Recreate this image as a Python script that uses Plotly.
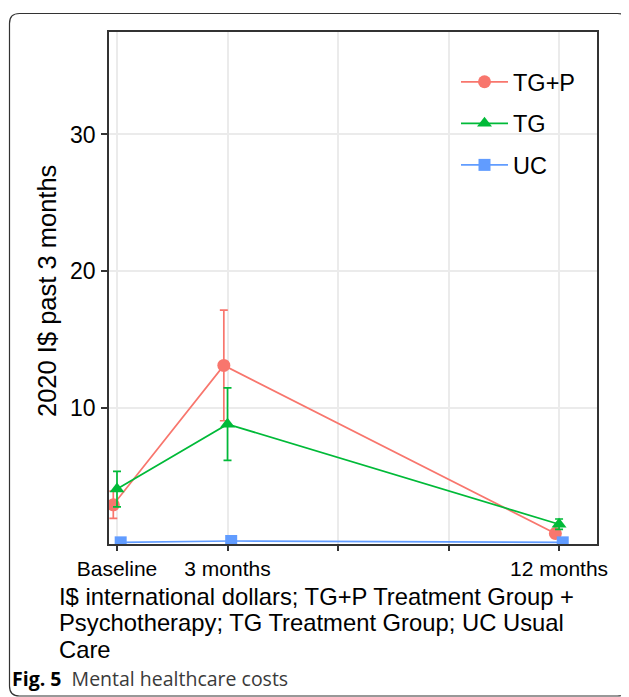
import plotly.graph_objects as go

# ---- data ----
months = [0, 3, 12]
tick_vals = [0, 3, 6, 9, 12]
tick_text = ["Baseline", "3 months", "", "", "12 months"]
groups = ["TG+P", "TG", "UC"]
tgp_mean = [2.9, 13.1, 0.8]
tgp_err = [1.0, 4.05, 0.3]
tg_mean = [4.05, 8.8, 1.48]
tg_err = [1.3, 2.65, 0.38]
uc_mean = [0.15, 0.25, 0.15]
uc_err = [0.08, 0.1, 0.08]

colors = {"TG+P": "#F8766D", "TG": "#00BA38", "UC": "#619CFF"}
symbols = {"TG+P": "circle", "TG": "triangle-up", "UC": "square"}
dodge = {"TG+P": -0.1, "TG": 0.0, "UC": 0.1}
means = {"TG+P": tgp_mean, "TG": tg_mean, "UC": uc_mean}
errs = {"TG+P": tgp_err, "TG": tg_err, "UC": uc_err}

FONT = "Liberation Sans, Arial, Helvetica, sans-serif"

# page has an 8px body margin; design in screen coordinates
OFF = 8
SW, SH = 629, 697
PL, PR, PT, PB = 109, 597, 32, 544   # plot area in screen px
W, H = SW - OFF, SH - OFF
ml, mt = PL - OFF, PT - OFF
mb = H - (PB - OFF)
mr = W - (PR - OFF)
pw, ph = PR - PL, PB - PT

def px(x):
    return (x - PL) / pw

def py(y):
    return (PB - y) / ph

fig = go.Figure()
for g in groups:
    fig.add_trace(go.Scatter(
        x=[m + dodge[g] for m in months],
        y=means[g],
        name=g,
        legendgroup=g,
        mode="lines+markers",
        line=dict(color=colors[g], width=1.7),
        marker=dict(symbol=symbols[g], size=13 if g != "UC" else 12, color=colors[g]),
        error_y=dict(type="data", array=errs[g], visible=True, color=colors[g],
                     thickness=1.7, width=4),
    ))

# white legend panel covering grid lines
fig.add_shape(type="rect", xref="paper", yref="paper",
              x0=px(442), x1=px(591), y0=py(200), y1=py(40),
              fillcolor="white", line=dict(width=0), layer="between")

fig.update_layout(
    width=W, height=H,
    margin=dict(l=ml, r=mr, t=mt, b=mb, autoexpand=False),
    paper_bgcolor="white", plot_bgcolor="white",
    font=dict(family=FONT, color="black"),
    showlegend=True,
    legend=dict(
        x=px(456), y=py(60), xanchor="left", yanchor="top",
        bgcolor="rgba(0,0,0,0)", font=dict(size=23.5, family=FONT),
        tracegroupgap=8, itemwidth=47, traceorder="grouped",
    ),
)
fig.update_xaxes(
    range=[-0.217, 13.03], tickmode="array", tickvals=tick_vals, ticktext=tick_text,
    showgrid=True, gridcolor="#EBEBEB", gridwidth=1.5,
    showline=True, mirror=True, linecolor="#333333", linewidth=1.6,
    ticks="outside", ticklen=5, tickwidth=1.5, tickcolor="#333333",
    tickfont=dict(size=21, family=FONT, color="black"), zeroline=False,
)
fig.update_yaxes(
    range=[0.03, 37.5], tickmode="array", tickvals=[10, 20, 30],
    showgrid=True, gridcolor="#EBEBEB", gridwidth=1.5,
    showline=True, mirror=True, linecolor="#333333", linewidth=1.6,
    ticks="outside", ticklen=6, tickwidth=1.5, tickcolor="#333333",
    tickfont=dict(size=23, family=FONT, color="black"), zeroline=False,
    ticklabelstandoff=1,
)

ann = [
    dict(text="2020 I$ past 3 months", x=px(47), y=py(291), textangle=-90,
         font=dict(size=25.5, family=FONT)),
    dict(text="I$ international dollars; TG+P Treatment Group +", x=px(57), y=py(596),
         xanchor="left", font=dict(size=23.8, family=FONT)),
    dict(text="Psychotherapy; TG Treatment Group; UC Usual", x=px(57), y=py(622),
         xanchor="left", font=dict(size=23.8, family=FONT)),
    dict(text="Care", x=px(57), y=py(649), xanchor="left", font=dict(size=23.8, family=FONT)),
    dict(text="<b>Fig. 5</b>  <span style='color:#3a3a3a'>Mental healthcare costs</span>",
         x=px(10), y=py(678), xanchor="left",
         font=dict(size=19.5, family="Open Sans, Noto Sans, sans-serif", color="black")),
]
for a in ann:
    a.setdefault("xanchor", "center")
    fig.add_annotation(xref="paper", yref="paper", showarrow=False, yanchor="middle", **a)

# outer rounded frame
x0, x1, y0, y1, r = 9.5, 627.5, 13.5, 696, 10
path = (f"M {px(x0)} {py(y0 + r)} Q {px(x0)} {py(y0)} {px(x0 + r)} {py(y0)} "
        f"L {px(x1 - r)} {py(y0)} Q {px(x1)} {py(y0)} {px(x1)} {py(y0 + r)} "
        f"L {px(x1)} {py(y1 - r)} Q {px(x1)} {py(y1)} {px(x1 - r)} {py(y1)} "
        f"L {px(x0 + r)} {py(y1)} Q {px(x0)} {py(y1)} {px(x0)} {py(y1 - r)} Z")
fig.add_shape(type="path", path=path, xref="paper", yref="paper",
              line=dict(color="#333333", width=1.2), layer="below")

fig.write_html("out.html")
